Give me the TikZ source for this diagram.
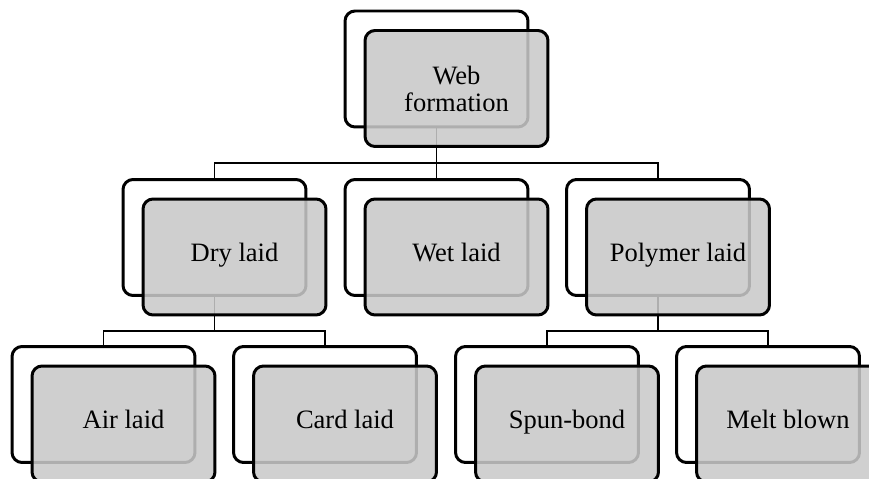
\documentclass[tikz,border=0pt]{standalone}
\usepackage{fontspec}
\setmainfont{Liberation Serif}

\begin{document}
\begin{tikzpicture}[
    x=0.02cm, y=-0.02cm,
    backframe/.style={draw=black, line width=1.7pt, rounded corners=0.2cm,
      fill=white, minimum width=3.66cm, minimum height=2.32cm, inner sep=0pt},
    frontbox/.style={draw=black, line width=1.7pt, rounded corners=0.2cm,
      fill=black!21, fill opacity=0.87, text opacity=1,
      minimum width=3.66cm, minimum height=2.32cm, inner sep=0pt,
      align=center, font=\fontsize{15.1}{15.4}\selectfont},
    oneline/.style={text height=0.69em, text depth=0.22em},
    conn/.style={line width=1.1pt}
]

\useasboundingbox (0,0) rectangle (869,479);
\clip (0,0) rectangle (869,479);

% ---- back frames ----
\node[backframe] (webB) at (436.5,69) {};
\node[backframe] (dryB) at (214.5,237.5) {};
\node[backframe] (wetB) at (436.5,237.5) {};
\node[backframe] (polyB) at (658,237.5) {};
\node[backframe] (airB) at (103.5,404.5) {};
\node[backframe] (cardB) at (325,404.5) {};
\node[backframe] (spunB) at (547,404.5) {};
\node[backframe] (meltB) at (768,404.5) {};

% ---- connectors ----
\coordinate (bar1) at (0,163);
\coordinate (bar2) at (0,331);
\draw[conn] (webB.south) -- (webB.south |- bar1);
\draw[conn] (dryB.north) |- (polyB.north |- bar1) -- (polyB.north);
\draw[conn] (wetB.north) -- (wetB.north |- bar1);

\draw[conn] (dryB.south) -- (dryB.south |- bar2);
\draw[conn] (airB.north) |- (cardB.north |- bar2) -- (cardB.north);

\draw[conn] (polyB.south) -- (polyB.south |- bar2);
\draw[conn] (spunB.north) |- (meltB.north |- bar2) -- (meltB.north);

% ---- front boxes ----
\node[frontbox] (web) at ([shift={(20,19.5)}]webB.center) {Web\\formation};
\node[frontbox, oneline] (dry) at ([shift={(20,19.5)}]dryB.center) {Dry laid};
\node[frontbox, oneline] (wet) at ([shift={(20,19.5)}]wetB.center) {Wet laid};
\node[frontbox, oneline] (poly) at ([shift={(20,19.5)}]polyB.center) {Polymer laid};
\node[frontbox, oneline] (air) at ([shift={(20,19.5)}]airB.center) {Air laid};
\node[frontbox, oneline] (card) at ([shift={(20,19.5)}]cardB.center) {Card laid};
\node[frontbox, oneline] (spun) at ([shift={(20,19.5)}]spunB.center) {Spun-bond};
\node[frontbox, oneline] (melt) at ([shift={(20,19.5)}]meltB.center) {Melt blown};

\end{tikzpicture}
\end{document}
